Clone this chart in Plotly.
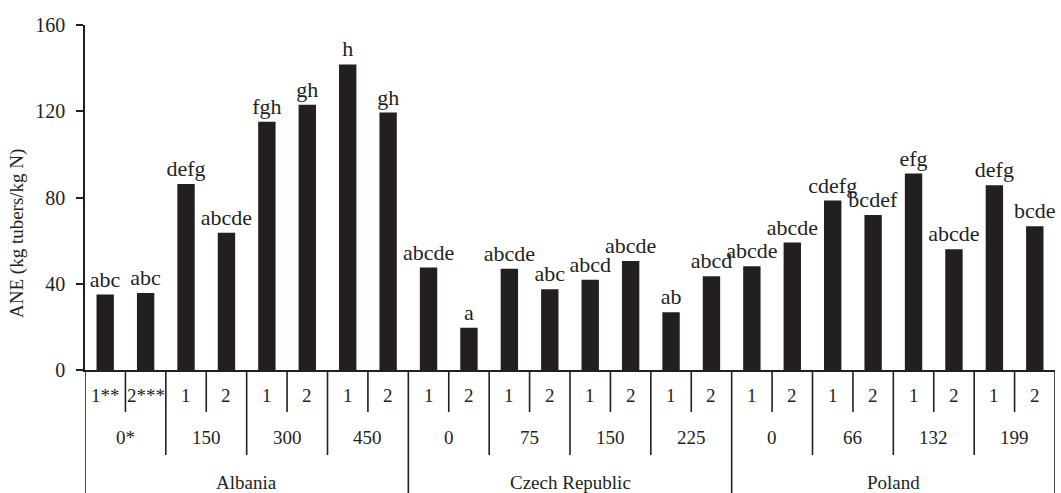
import plotly.graph_objects as go

# ---- data ----
countries = ["Albania", "Czech Republic", "Poland"]
rates = ["0*", "150", "300", "450", "0", "75", "150", "225", "0", "66", "132", "199"]
years = ["1**", "2***", "1", "2", "1", "2", "1", "2",
         "1", "2", "1", "2", "1", "2", "1", "2",
         "1", "2", "1", "2", "1", "2", "1", "2"]
ane = [35, 35.7, 86.3, 63.6, 115.1, 123, 141.7, 119.4,
       47.5, 19.6, 47, 37.4, 41.8, 50.6, 26.8, 43.5,
       48.1, 59.1, 78.6, 71.9, 91.1, 56, 85.7, 66.7]
letters = ["abc", "abc", "defg", "abcde", "fgh", "gh", "h", "gh",
           "abcde", "a", "abcde", "abc", "abcd", "abcde", "ab", "abcd",
           "abcde", "abcde", "cdefg", "bcdef", "efg", "abcde", "defg", "bcde"]
y_ticks = [0, 40, 80, 120, 160]

INK = "#231f20"
FONT = "Liberation Serif"

n = len(ane)
xs = list(range(n))

fig = go.Figure()
fig.add_trace(go.Bar(
    x=xs, y=ane, width=0.43,
    marker=dict(color=INK, line=dict(width=0)),
    text=letters, textposition="outside", constraintext="none",
    textfont=dict(family=FONT, size=22, color=INK),
    cliponaxis=False, showlegend=False,
))

H = 345.0  # plot height in px
W = 970.0  # plot width in px
def py(px_below):
    return -px_below / H

shapes = []
for k in range(n + 1):
    xb = k - 0.5
    if k % 8 == 0:
        depth = 123
    elif k % 2 == 0:
        depth = 85
    else:
        depth = 42
    shapes.append(dict(type="line", xref="x", yref="paper", x0=xb, x1=xb,
                       y0=0, y1=py(depth), line=dict(color=INK, width=1.6)))

annotations = []
for i, t in enumerate(years):
    annotations.append(dict(x=i, y=py(25), xref="x", yref="paper", text=t,
                            showarrow=False, yanchor="middle",
                            font=dict(family=FONT, size=19, color=INK)))
for j, t in enumerate(rates):
    annotations.append(dict(x=2 * j + 0.5, y=py(68), xref="x", yref="paper", text=t,
                            showarrow=False, yanchor="middle",
                            font=dict(family=FONT, size=19, color=INK)))
for j, t in enumerate(countries):
    annotations.append(dict(x=8 * j + 3.5, y=py(112), xref="x", yref="paper", text=t,
                            showarrow=False, yanchor="middle",
                            font=dict(family=FONT, size=19, color=INK)))
annotations.append(dict(x=(17 - 85) / W, y=(370 - 234) / H, xref="paper", yref="paper",
                        text="ANE (kg tubers/kg N)",
                        showarrow=False, textangle=-90, xanchor="center", yanchor="middle",
                        font=dict(family=FONT, size=19, color=INK)))

fig.update_layout(
    width=1061, height=493, autosize=False,
    margin=dict(l=85, r=6, t=25, b=123, autoexpand=False),
    paper_bgcolor="white", plot_bgcolor="white",
    xaxis=dict(range=[-0.5, n - 0.5], showticklabels=False, ticks="",
               showgrid=False, zeroline=False, showline=True,
               linecolor=INK, linewidth=1.6, fixedrange=True),
    yaxis=dict(range=[0, 160], tickvals=y_ticks, ticks="outside", ticklen=7,
               tickcolor=INK, tickwidth=1.6, showgrid=False, zeroline=False,
               showline=True, linecolor=INK, linewidth=1.6,
               ticklabelstandoff=7,
               tickfont=dict(family=FONT, size=20, color=INK)),
    shapes=shapes,
    annotations=annotations,
)

fig.write_html("out.html", config={"displayModeBar": False},
               post_script="document.body.style.margin='0';document.body.style.padding='0';")
